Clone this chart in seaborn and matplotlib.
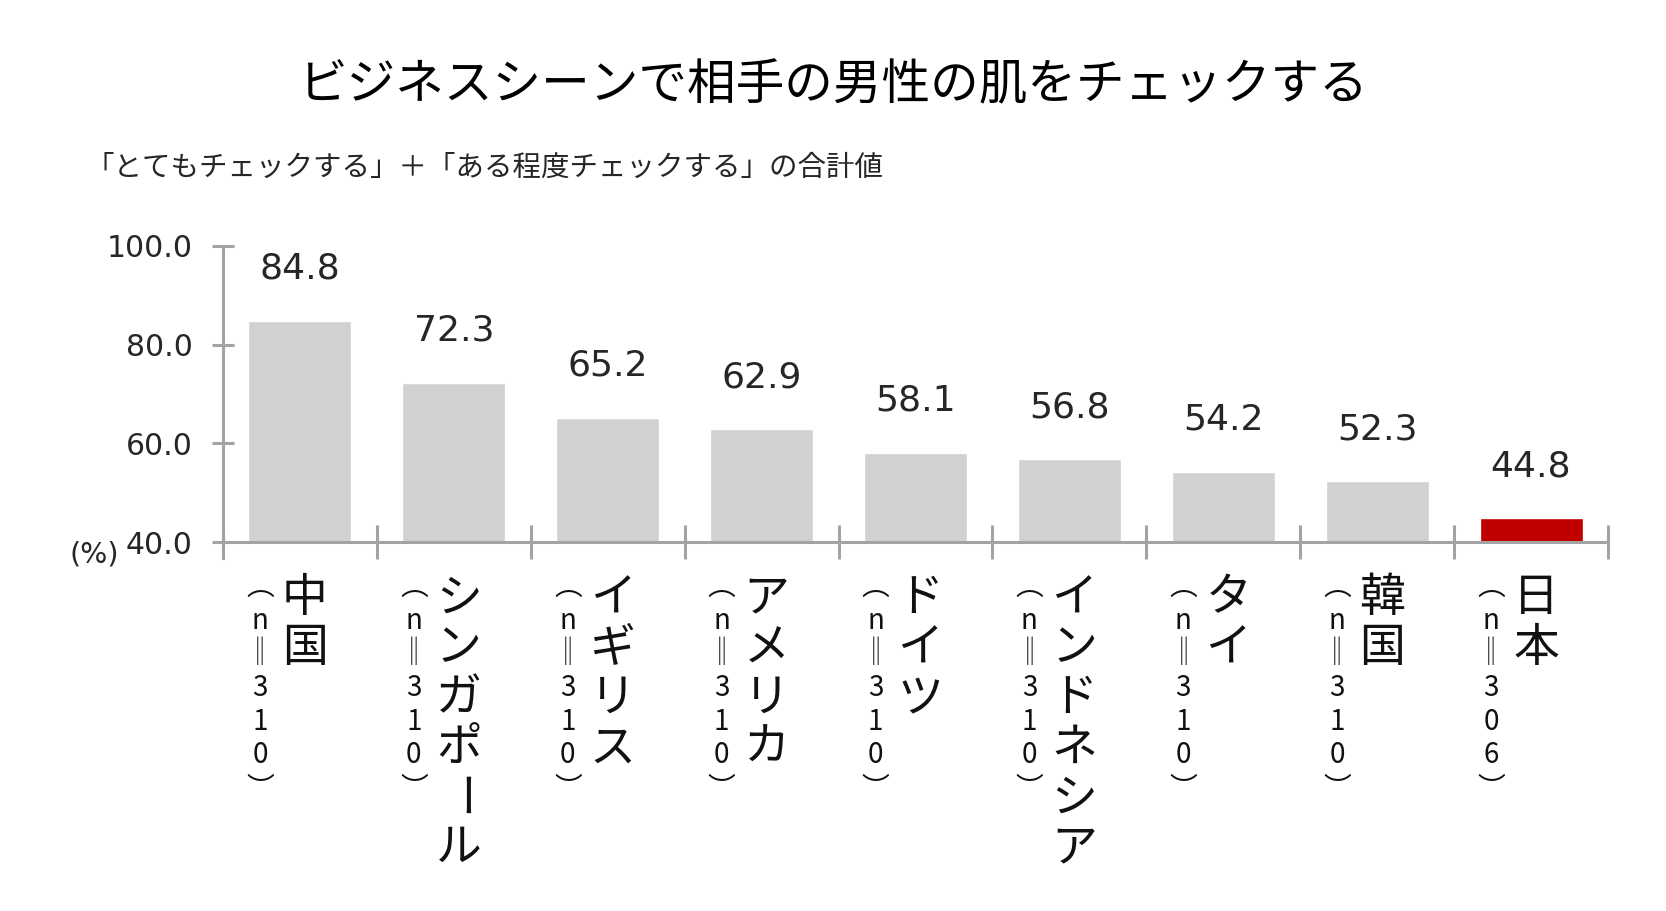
import matplotlib
matplotlib.use("Agg")
import matplotlib.pyplot as plt
import matplotlib.transforms as mtransforms
import seaborn as sns

# ---- data ----
countries = ['中国', 'シンガポール', 'イギリス', 'アメリカ', 'ドイツ', 'インドネシア', 'タイ', '韓国', '日本']
sample_sizes = [310, 310, 310, 310, 310, 310, 310, 310, 306]
values = [84.8, 72.3, 65.2, 62.9, 58.1, 56.8, 54.2, 52.3, 44.8]
yticks = [40, 60, 80, 100]
title = 'ビジネスシーンで相手の男性の肌をチェックする'
subtitle = '「とてもチェックする」＋「ある程度チェックする」の合計値'

# ---- style ----
sns.set_theme(style='white')
CJK = ['Noto Sans CJK JP', 'DejaVu Sans']
plt.rcParams['font.family'] = ['DejaVu Sans', 'Noto Sans CJK JP']
AXC = '#a3a3a3'
TXT = '#262626'
GREY = '#d1d1d1'
RED = '#c00000'
PX = 72 / 100.0  # points per pixel

fig = plt.figure(figsize=(16.66, 9.11), dpi=100)
ax = fig.add_axes([223 / 1666, (911 - 542) / 911, (1608 - 223) / 1666, 296 / 911])

colors = [RED if c == '日本' else GREY for c in countries]
sns.barplot(x=countries, y=values, hue=countries, palette=colors, legend=False,
            width=0.67, saturation=1, ax=ax)

ax.set_ylim(40, 100)
ax.set_xlim(-0.5, len(countries) - 0.5)
ax.set_yticks(yticks)
ax.set_yticklabels([f'{v:.1f}' for v in yticks])
ax.set_xlabel('')
ax.set_ylabel('')

for s in ['top', 'right']:
    ax.spines[s].set_visible(False)
for s in ['left', 'bottom']:
    ax.spines[s].set_color(AXC)
    ax.spines[s].set_linewidth(2.2)
ax.spines['left'].set_bounds(36.8, 100)

ax.tick_params(axis='y', direction='inout', length=16, width=2.2, color=AXC,
               labelsize=21.5, labelcolor=TXT, pad=14, left=True)
ax.set_xticks(range(len(countries)))
ax.set_xticklabels([])
ax.tick_params(axis='x', which='major', length=0, bottom=False)
ax.set_xticks([i - 0.5 for i in range(len(countries) + 1)], minor=True)
ax.tick_params(axis='x', which='minor', direction='inout', length=25, width=2.2,
               color=AXC, bottom=True)

# value labels
for i, v in enumerate(values):
    ax.annotate(f'{v:.1f}', xy=(i, v), xytext=(0, 52 * PX), textcoords='offset points',
                ha='center', va='center', fontsize=26, color=TXT, annotation_clip=False)

# (%) label
ax.annotate('(%)', xy=(0, 0), xycoords='axes fraction', xytext=(-104 * PX, -13 * PX),
            textcoords='offset points', ha='right', va='center', fontsize=20.5, color=TXT)

# vertical category labels
trans = mtransforms.blended_transform_factory(ax.transData, ax.transAxes)
for i, (name, n) in enumerate(zip(countries, sample_sizes)):
    for j, ch in enumerate(name):
        rot = -90 if ch == 'ー' else 0
        ax.annotate(ch, xy=(i, 0), xycoords=trans, xytext=(5 * PX, -(56 + 50 * j) * PX),
                    textcoords='offset points', ha='center', va='center', fontsize=33,
                    family=CJK, color='#111111', rotation=rot, annotation_clip=False)
    ncol = '\n'.join(['︵', 'n', '‖'] + list(str(n)) + ['︶'])
    ax.annotate(ncol, xy=(i, 0), xycoords=trans, xytext=(-40 * PX, -30 * PX),
                textcoords='offset points', ha='center', va='top', ma='center',
                fontsize=20, family=CJK, color='#111111', linespacing=1.16,
                annotation_clip=False)

fig.text(834 / 1666, 1 - 86 / 911, title, ha='center', va='center', fontsize=35,
         family=CJK, color='#000000')
fig.text(86 / 1666, 1 - 168 / 911, subtitle, ha='left', va='center', fontsize=20.5,
         family=CJK, color=TXT)

fig.savefig('out.png', dpi=100, facecolor='white')
